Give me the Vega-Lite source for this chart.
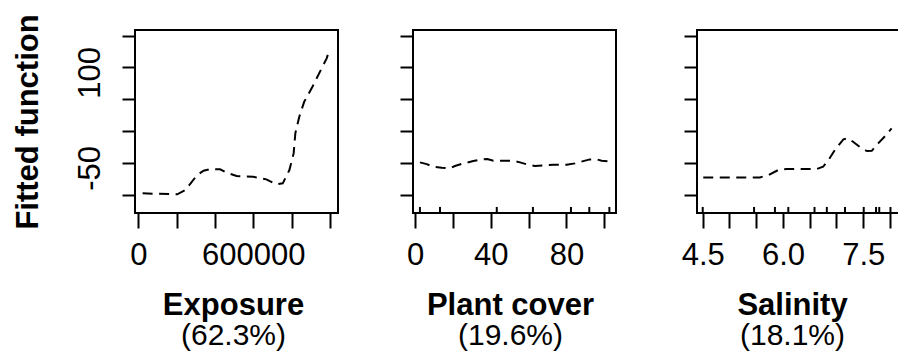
{
  "$schema": "https://vega.github.io/schema/vega-lite/v6.json",
  "padding": {"left": 11, "top": 12, "right": 0, "bottom": 0},
  "background": "white",
  "config": {
    "view": {"stroke": "black", "strokeWidth": 2},
    "axis": {
      "domain": false, "grid": false, "tickColor": "black", "tickWidth": 2, "tickCount": 20,
      "labelFont": "Liberation Sans", "labelFontSize": 31, "labelColor": "black",
      "labelOverlap": false, "labelFlush": false,
      "titleFont": "Liberation Sans", "titleFontSize": 31, "titleFontWeight": "bold", "titleColor": "black"
    },
    "axisX": {"tickSize": 15, "labelPadding": 12},
    "axisY": {"tickSize": 13, "labelAngle": -90, "labelAlign": "center", "labelBaseline": "alphabetic", "labelPadding": 23, "labelOffset": 5, "titlePadding": 30},
    "title": {
      "orient": "bottom", "anchor": "middle", "font": "Liberation Sans", "fontSize": 31, "fontWeight": "bold", "color": "black",
      "subtitleFont": "Liberation Sans", "subtitleFontSize": 30, "subtitleFontWeight": "normal", "subtitleColor": "black",
      "offset": 21, "subtitlePadding": -1
    }
  },
  "datasets": {
    "exposure": [
      {"x": 22700, "y": -97.9}, {"x": 203400, "y": -99.5}, {"x": 246300, "y": -92.7}, {"x": 306700, "y": -69.2},
      {"x": 340800, "y": -62.4}, {"x": 375300, "y": -59.7}, {"x": 427000, "y": -60.2}, {"x": 461600, "y": -65.5},
      {"x": 513200, "y": -70.7}, {"x": 598900, "y": -71.8}, {"x": 668100, "y": -75.9}, {"x": 719700, "y": -83.8},
      {"x": 753800, "y": -82.2}, {"x": 788400, "y": -61.3}, {"x": 810600, "y": -35.1}, {"x": 819400, "y": -3.6},
      {"x": 840000, "y": 22.5}, {"x": 865800, "y": 46.1}, {"x": 908700, "y": 69.6}, {"x": 952100, "y": 95.9},
      {"x": 983000, "y": 114.3}, {"x": 991300, "y": 122.1}
    ],
    "plant": [
      {"x": 2.6, "y": -49.2}, {"x": 6.2, "y": -51.9}, {"x": 9.7, "y": -56.1}, {"x": 14.1, "y": -57.7},
      {"x": 18.5, "y": -58.6}, {"x": 21.1, "y": -55.0}, {"x": 25.5, "y": -50.8}, {"x": 30.8, "y": -47.2},
      {"x": 35.2, "y": -44.5}, {"x": 38.2, "y": -44.0}, {"x": 41.4, "y": -46.7}, {"x": 46.6, "y": -46.7},
      {"x": 51.9, "y": -46.7}, {"x": 55.5, "y": -49.2}, {"x": 59.9, "y": -53.0}, {"x": 63.4, "y": -55.0},
      {"x": 67.8, "y": -53.9}, {"x": 73.1, "y": -53.0}, {"x": 80.1, "y": -53.0}, {"x": 84.5, "y": -50.8},
      {"x": 88.9, "y": -47.2}, {"x": 92.4, "y": -44.5}, {"x": 96.0, "y": -44.5}, {"x": 98.6, "y": -46.7},
      {"x": 102.1, "y": -47.6}
    ],
    "plantRug": [{"x": 2.6}, {"x": 13.2}, {"x": 43.2}, {"x": 62.3}, {"x": 82.4}, {"x": 92.1}, {"x": 102.7}],
    "salinity": [
      {"x": 4.51, "y": -72.8}, {"x": 5.57, "y": -72.8}, {"x": 5.73, "y": -69.2}, {"x": 5.91, "y": -61.3},
      {"x": 6.07, "y": -59.7}, {"x": 6.63, "y": -59.7}, {"x": 6.75, "y": -56.1}, {"x": 6.85, "y": -45.6},
      {"x": 6.97, "y": -29.9}, {"x": 7.13, "y": -13.0}, {"x": 7.22, "y": -11.5}, {"x": 7.31, "y": -16.8},
      {"x": 7.47, "y": -27.2}, {"x": 7.57, "y": -31.4}, {"x": 7.66, "y": -31.0}, {"x": 7.78, "y": -19.3},
      {"x": 7.91, "y": -7.9}, {"x": 8.03, "y": 4.2}
    ],
    "salRug": [{"x": 4.5}, {"x": 5.46}, {"x": 5.85}, {"x": 6.10}, {"x": 6.59}, {"x": 6.82}, {"x": 7.16}, {"x": 7.51}, {"x": 7.74}, {"x": 7.80}, {"x": 8.01}]
  },
  "bounds": "flush",
  "spacing": 75,
  "hconcat": [
    {
      "width": 203, "height": 183,
      "title": {"text": "Exposure", "subtitle": "(62.3%)", "dx": -3},
      "data": {"name": "exposure"},
      "mark": {"type": "line", "color": "black", "strokeWidth": 2, "strokeDash": [10, 6.5], "clip": true},
      "encoding": {
        "x": {"field": "x", "type": "quantitative",
          "scale": {"domain": [-17000, 1042000], "nice": false, "zero": false},
          "axis": {"title": null, "values": [0, 200000, 400000, 600000, 800000, 1000000], "tickCount": 20, "labelOverlap": false,
            "labelExpr": "abs(datum.value) < 1 ? '0' : abs(datum.value - 600000) < 1 ? '600000' : ''"}},
        "y": {"field": "y", "type": "quantitative",
          "scale": {"domain": [-128.8, 158.9], "nice": false, "zero": false},
          "axis": {"title": "Fitted function", "values": [-100, -50, 0, 50, 100, 150], "tickCount": 20, "labelOverlap": false,
            "labelExpr": "abs(datum.value + 50) < 0.1 ? '-50' : abs(datum.value - 100) < 0.1 ? '100' : ''"}}
      }
    },
    {
      "bounds": "flush",
      "spacing": 81,
      "hconcat": [
        {
          "width": 203, "height": 183,
          "title": {"text": "Plant cover", "subtitle": "(19.6%)", "dx": -4},
          "layer": [
            {
              "data": {"name": "plant"},
              "mark": {"type": "line", "color": "black", "strokeWidth": 2, "strokeDash": [10, 6.5], "clip": true},
              "encoding": {
                "x": {"field": "x", "type": "quantitative",
                  "scale": {"domain": [-1.06, 106.2], "nice": false, "zero": false},
                  "axis": {"title": null, "values": [0, 20, 40, 60, 80, 100], "tickCount": 20, "labelOverlap": false,
                    "labelExpr": "abs(datum.value) < 0.1 ? '0' : abs(datum.value - 40) < 0.1 ? '40' : abs(datum.value - 80) < 0.1 ? '80' : ''"}},
                "y": {"field": "y", "type": "quantitative",
                  "scale": {"domain": [-128.8, 158.9], "nice": false, "zero": false},
                  "axis": {"title": null, "labels": false, "tickCount": 20, "values": [-100, -50, 0, 50, 100, 150]}}
              }
            },
            {
              "data": {"name": "plantRug"},
              "mark": {"type": "rule", "color": "black", "strokeWidth": 2},
              "encoding": {
                "x": {"field": "x", "type": "quantitative"},
                "y": {"datum": -128.8},
                "y2": {"datum": -119.3}
              }
            }
          ]
        },
        {
          "width": 203, "height": 183,
          "title": {"text": "Salinity", "subtitle": "(18.1%)", "dx": -6},
          "layer": [
            {
              "data": {"name": "salinity"},
              "mark": {"type": "line", "color": "black", "strokeWidth": 2, "strokeDash": [10, 6.5], "clip": true},
              "encoding": {
                "x": {"field": "x", "type": "quantitative",
                  "scale": {"domain": [4.393, 8.188], "nice": false, "zero": false},
                  "axis": {"title": null, "values": [4.5, 5, 5.5, 6, 6.5, 7, 7.5, 8], "tickCount": 20, "labelOverlap": false,
                    "labelExpr": "abs(datum.value - 4.5) < 0.01 ? '4.5' : abs(datum.value - 6) < 0.01 ? '6.0' : abs(datum.value - 7.5) < 0.01 ? '7.5' : ''"}},
                "y": {"field": "y", "type": "quantitative",
                  "scale": {"domain": [-128.8, 158.9], "nice": false, "zero": false},
                  "axis": {"title": null, "labels": false, "tickCount": 20, "values": [-100, -50, 0, 50, 100, 150]}}
              }
            },
            {
              "data": {"name": "salRug"},
              "mark": {"type": "rule", "color": "black", "strokeWidth": 2},
              "encoding": {
                "x": {"field": "x", "type": "quantitative"},
                "y": {"datum": -128.8},
                "y2": {"datum": -119.3}
              }
            }
          ]
        }
      ]
    }
  ]
}
